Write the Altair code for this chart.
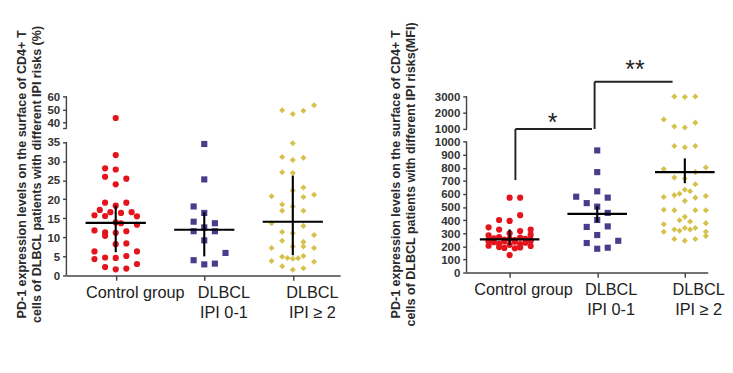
import altair as alt
import pandas as pd

# ---------------- data ----------------
groups = [1, 2, 3]
category_labels = ["Control group", "DLBCL|IPI 0-1", "DLBCL|IPI ≥ 2"]
colors = ["#e3141c", "#473d8b", "#d5c24c"]
shapes = ["circle", "square", "diamond"]
sizes = [42, 40, 80]

title_left = ["PD-1 expression levels on the surface of CD4+ T",
              "cells of DLBCL patients with different IPI risks (%)"]
title_right = ["PD-1 expression levels on the surface of CD4+ T",
               "cells of DLBCL patients with different IPI risks(MFI)"]

# Left panel (%): values and horizontal jitter slot of each point
pct_ctrl = [43.5, 31.6, 28.1, 27.8, 25.9, 25.4, 23.9, 19.1, 19.1, 17.2, 18.3, 16.6, 16.4,
            16.6, 15.5, 15.8, 15.6, 13.9, 13.7, 13.3, 11.8, 11.3, 10.4, 11.2, 11.6, 8.2,
            8.4, 6.3, 6.3, 4.3, 4.7, 4.6, 5.1, 3.0, 2.2, 1.6, 1.8]
pct_ctrl_slot = [0, 0, -2, 0, -2, 2, 0, -2, 2, -3, 0, -1, 1,
                 3, 4, -4, -2, 0, 1, 4, -4, -2, -2, 0, 2, 0,
                 2, -4, 4, -4, -2, 0, 2, 4, -2, 0, 2]
pct_low = [34.5, 25.2, 18.1, 16.4, 14.1, 13.7, 11.6, 12.6, 11.6, 9.2, 5.9, 4.0, 2.9, 3.1]
pct_low_slot = [0, 0, -2, 0, -2, 2, -2, 0, 2, 0, 4, -2, 0, 2]
pct_high = [49.5, 46.6, 49.0, 53.2, 34.7, 31.1, 30.3, 30.9, 27.1, 26.9, 23.1, 22.3, 20.8,
            20.6, 21.2, 18.6, 18.1, 17.0, 17.0, 13.7, 13.0, 11.4, 11.1, 10.6, 9.1, 8.8,
            7.2, 7.6, 7.6, 7.2, 4.9, 4.6, 4.4, 4.5, 5.1, 3.8, 3.6, 2.4, 1.5, 1.9]
pct_high_slot = [-2, 0, 2, 4, 0, -2, 0, 2, -2, 0, 2, 0, -4,
                 2, 4, -2, 0, -2, 2, -4, 2, -2, 0, 4, -2, 2,
                 -4, 0, 2, 4, -2, -1, 0, 1, 2, -4, 4, -2, 0, 2]
pct_mean = [13.8, 12.0, 14.1]
pct_err_lo = [6.1, 5.0, 5.3]
pct_err_hi = [18.4, 16.6, 26.2]

# Right panel (MFI)
mfi_ctrl = [573, 573, 439, 402, 395, 346, 329, 317, 329, 300, 285, 290, 272, 268, 262,
            258, 252, 248, 240, 242, 232, 228, 220, 218, 212, 205, 203, 195, 192, 188,
            186, 134, 258, 238, 236, 250, 252]
mfi_ctrl_slot = [0, 2, 2, -2, 0, -4, -2, 2, 4, 0, -4, 4, -2, 2, -3,
                 3, -1, 1, -4, 4, -3, 3, -2, 2, 0, -4, 4, -2, 2, -1,
                 1, 0, 0, -1, 1, -4, 4]
mfi_low = [934, 768, 580, 621, 573, 531, 504, 456, 402, 349, 353, 287, 243, 226, 182, 190]
mfi_low_slot = [0, 0, -4, 0, 2, -2, 0, 2, 0, -2, 2, 0, 4, -2, 0, 2]
mfi_high = [3000, 2960, 3000, 1588, 1150, 1094, 1388, 968, 958, 968,
            792, 804, 726, 719, 768, 675, 634, 592, 578, 602, 622, 548, 573, 585,
            480, 476, 476, 476, 426, 400, 390, 370, 378, 329, 341, 341, 312, 320,
            330, 312, 256, 244, 256, 280]
mfi_high_slot = [-2, 0, 2, -4, -2, 0, 2, -2, 0, 2,
                 -4, 4, -2, 0, 2, 2, 0, -2, -4, -1, 1, 0, 2, 4,
                 -4, -2, 2, 4, 0, -1, 1, -4, 4, -2, 0, 2, -4, -1,
                 1, 4, -2, 0, 2, 4]
mfi_mean = [254, 449, 768]
mfi_err_lo = [210, 385, 683]
mfi_err_hi = [330, 507, 873]

# broken-axis segments
pct_seg_lo = [0, 36]
pct_seg_hi = [35, 60]
pct_ticks = [0, 5, 10, 15, 20, 25, 30, 35, 36, 40, 50, 60]
upper_start = 1000.001
mfi_seg_lo = [0, upper_start]
mfi_seg_hi = [1000, 3000]
mfi_ticks = [0, 100, 200, 300, 400, 500, 600, 700, 800, 900, 1000, upper_start, 2000, 3000]

# significance brackets (right panel)
brk_x = [1.066, 1.066, 1.97, 1.97]
brk_x2 = [1.066, 1.94, 1.97, 2.86]
brk_y = [707, upper_start, upper_start, 3900]
brk_y2 = [upper_start, upper_start, 3900, 3900]
star_x = [1.49, 2.43]
star_y = [1782, 5016]
star_text = ["*", "**"]

SLOT = 0.06
HALF = 0.34
FONT = "Liberation Sans"


def points_df(vals_list, slots_list):
    rows = []
    for g, vals, slots in zip(groups, vals_list, slots_list):
        for v, s in zip(vals, slots):
            rows.append({"g": g, "value": v, "slot": s})
    return pd.DataFrame(rows)


def summary_df(means, los, his):
    return pd.DataFrame({"g": groups, "mean": means, "lo": los, "hi": his})


label_expr = " : ".join(
    [f"datum.value == {g} ? split('{lab}', '|')" for g, lab in zip(groups[:-1], category_labels[:-1])]
) + f" : split('{category_labels[-1]}', '|')"


def panel(pts, summ, seg_lo, seg_hi, ticks, ydom, yrange, height, xdom, width,
          title, title_x, label_expr_y, label_offset, extra=None):
    xscale = alt.Scale(domain=xdom, nice=False, zero=False)
    yscale = alt.Scale(domain=ydom, range=yrange, nice=False, zero=False)
    xaxis = alt.Axis(values=groups, labelExpr=label_expr, title=None, grid=False,
                     tickSize=5, tickColor="#444", tickWidth=1.5,
                     domainColor="#444", domainWidth=1.5,
                     labelFont=FONT, labelFontSize=17, labelColor="#222",
                     labelPadding=5, labelLineHeight=21, labelOffset=label_offset,
                     labelBaseline="top", labelFlush=False, labelOverlap=False)
    yaxis = alt.Axis(values=ticks, labelExpr=label_expr_y, title=title, grid=False,
                     domain=False, tickSize=4, tickColor="#444", tickWidth=1.5,
                     labelFont=FONT, labelFontSize=12, labelFontWeight="bold",
                     labelColor="#333", labelPadding=3,
                     titleFont=FONT, titleFontSize=13.1, titleFontWeight="bold",
                     titleColor="#2a2a2a", titleLineHeight=16, titleX=title_x, titleY=81)

    def X(field):
        return alt.X(field, scale=xscale, axis=xaxis, title=None)

    def Y(field):
        return alt.Y(field, scale=yscale, axis=yaxis, title=title)

    base_pts = alt.Chart(pts).transform_calculate(
        xpos=f"datum.g + datum.slot * {SLOT}")
    dots = base_pts.mark_point(filled=True, opacity=1, strokeWidth=0).encode(
        x=X("xpos:Q"),
        y=Y("value:Q"),
        color=alt.Color("g:N", scale=alt.Scale(domain=groups, range=colors), legend=None),
        shape=alt.Shape("g:N", scale=alt.Scale(domain=groups, range=shapes), legend=None),
        size=alt.Size("g:N", scale=alt.Scale(domain=groups, range=sizes), legend=None),
    )
    base_s = alt.Chart(summ).transform_calculate(
        xl=f"datum.g - {HALF}", xr=f"datum.g + {HALF}")
    mean_line = base_s.mark_rule(color="black", strokeWidth=2.2).encode(
        x=X("xl:Q"), x2="xr:Q", y=Y("mean:Q"))
    err_line = base_s.mark_rule(color="black", strokeWidth=2.2).encode(
        x=X("g:Q"), y=Y("lo:Q"), y2="hi:Q")
    seg = alt.Chart(pd.DataFrame({"lo": seg_lo, "hi": seg_hi})).mark_rule(
        color="#444", strokeWidth=1.5).encode(
        x=alt.value(0), y=Y("lo:Q"), y2="hi:Q")
    layers = [dots, mean_line, err_line, seg]
    if extra is not None:
        layers += extra(X, Y)
    return alt.layer(*layers).properties(width=width, height=height)


def brackets(X, Y):
    b = alt.Chart(pd.DataFrame({"x": brk_x, "x2": brk_x2, "y": brk_y, "y2": brk_y2})).mark_rule(
        color="#222", strokeWidth=2).encode(
        x=X("x:Q"), x2="x2:Q", y=Y("y:Q"), y2="y2:Q")
    s = alt.Chart(pd.DataFrame({"x": star_x, "y": star_y, "t": star_text})).mark_text(
        font=FONT, fontSize=26, color="#222", baseline="middle", dy=7).encode(
        x=X("x:Q"), y=Y("y:Q"), text="t:N")
    return [b, s]


left = panel(points_df([pct_ctrl, pct_low, pct_high], [pct_ctrl_slot, pct_low_slot, pct_high_slot]),
             summary_df(pct_mean, pct_err_lo, pct_err_hi),
             pct_seg_lo, pct_seg_hi, pct_ticks,
             [0, 35, 36, 60], [187, 47.7, 32.8, 0], 187,
             [0.443, 3.535], 286, title_left, -40,
             "datum.value == 36 ? '' : format(datum.value, 'd')", 20)

right = panel(points_df([mfi_ctrl, mfi_low, mfi_high], [mfi_ctrl_slot, mfi_low_slot, mfi_high_slot]),
              summary_df(mfi_mean, mfi_err_lo, mfi_err_hi),
              mfi_seg_lo, mfi_seg_hi, mfi_ticks,
              [0, 1000, upper_start, 3000], [184, 47.4, 34, 0], 184,
              [0.508, 3.262], 252, title_right, -67,
              "format(floor(datum.value), 'd')", 14, extra=brackets)

chart = alt.hconcat(left, right, spacing=51).properties(
    padding={"left": 7, "top": 7, "right": 0, "bottom": 5},
    background="white",
).configure_view(stroke=None)

chart.save("out.html", embed_options={"renderer": "svg", "actions": False})
